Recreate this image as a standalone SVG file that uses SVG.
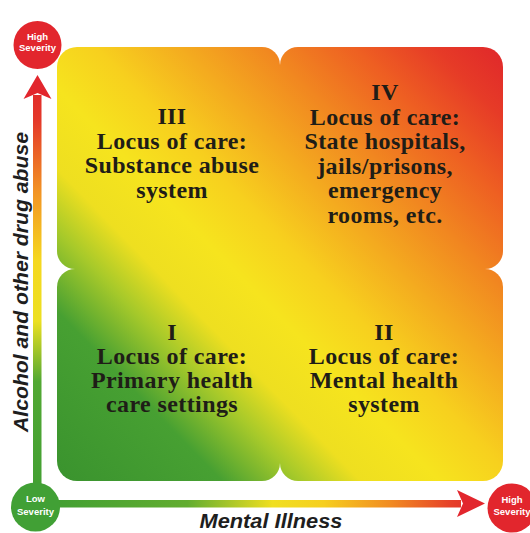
<svg xmlns="http://www.w3.org/2000/svg" width="530" height="533" viewBox="0 0 530 533">
  <defs>
    <!-- severity field: green (low/low) to red (high/high) -->
    <linearGradient id="field" gradientUnits="userSpaceOnUse" x1="57" y1="481" x2="503" y2="47">
      <stop offset="0" stop-color="#3a932e"/>
      <stop offset="0.19" stop-color="#47a032"/>
      <stop offset="0.28" stop-color="#a6c92a"/>
      <stop offset="0.35" stop-color="#eedf20"/>
      <stop offset="0.44" stop-color="#f6e41e"/>
      <stop offset="0.53" stop-color="#f7d01e"/>
      <stop offset="0.63" stop-color="#f4ab1f"/>
      <stop offset="0.73" stop-color="#f18620"/>
      <stop offset="0.83" stop-color="#ee5f22"/>
      <stop offset="0.92" stop-color="#e63b27"/>
      <stop offset="1" stop-color="#e0272b"/>
    </linearGradient>
    <linearGradient id="axisV" gradientUnits="userSpaceOnUse" x1="0" y1="482" x2="0" y2="80">
      <stop offset="0" stop-color="#43a032"/>
      <stop offset="0.25" stop-color="#52a833"/>
      <stop offset="0.4" stop-color="#ece021"/>
      <stop offset="0.55" stop-color="#f5d81f"/>
      <stop offset="0.72" stop-color="#f29424"/>
      <stop offset="0.9" stop-color="#e4382a"/>
      <stop offset="1" stop-color="#e0272b"/>
    </linearGradient>
    <linearGradient id="axisH" gradientUnits="userSpaceOnUse" x1="60" y1="0" x2="485" y2="0">
      <stop offset="0" stop-color="#43a032"/>
      <stop offset="0.3" stop-color="#62ad30"/>
      <stop offset="0.5" stop-color="#f0df21"/>
      <stop offset="0.62" stop-color="#f6cf1f"/>
      <stop offset="0.78" stop-color="#f18a22"/>
      <stop offset="0.92" stop-color="#e64029"/>
      <stop offset="1" stop-color="#e0272b"/>
    </linearGradient>
    <style>
      .quad { fill: url(#field); }
      .label { font-family: "Liberation Serif", "Times New Roman", serif; font-weight: bold; font-size: 24px; letter-spacing: 0.4px; fill: #1f1d17; text-anchor: middle; }
      .badge-text { font-family: "Liberation Sans", Arial, sans-serif; font-weight: bold; font-size: 9.5px; fill: #ffffff; text-anchor: middle; }
      .axis-title { font-family: "Liberation Sans", Arial, sans-serif; font-weight: bold; font-style: italic; font-size: 21px; fill: #1e1e1e; text-anchor: middle; }
      .high { fill: #e2262d; }
      .low { fill: #41a035; }
    </style>
  </defs>

  <rect x="0" y="0" width="530" height="533" fill="#ffffff"/>

  <!-- axes -->
  <g id="connectors">
    <rect x="33" y="95" width="8.5" height="390" fill="url(#axisV)"/>
    <path d="M37.5,75 L51.5,99 L37.5,93 L23.5,99 Z" class="high"/>
    <rect x="55" y="500" width="406" height="7.5" fill="url(#axisH)"/>
    <path d="M485,503.5 L457,490 L463,503.5 L457,517 Z" class="high"/>
  </g>

  <!-- quadrants: outer corners rounded, notches where the edges meet, square at the centre -->
  <g id="quadrant-III">
    <path class="quad" d="M77,47 H262 A18,18 0 0 1 280,65 V269 H75 A18,18 0 0 1 57,251 V67 A20,20 0 0 1 77,47 Z"/>
    <text class="label" x="172" y="124">III</text>
    <text class="label" x="172" y="148.5">Locus of care:</text>
    <text class="label" x="172" y="173">Substance abuse</text>
    <text class="label" x="172" y="197.5">system</text>
  </g>
  <g id="quadrant-IV">
    <path class="quad" d="M298,47 H483 A20,20 0 0 1 503,67 V251 A18,18 0 0 1 485,269 H280 V65 A18,18 0 0 1 298,47 Z"/>
    <text class="label" x="385" y="100">IV</text>
    <text class="label" x="385" y="124.6">Locus of care:</text>
    <text class="label" x="385" y="149.2">State hospitals,</text>
    <text class="label" x="385" y="173.8">jails/prisons,</text>
    <text class="label" x="385" y="198.4">emergency</text>
    <text class="label" x="385" y="223">rooms, etc.</text>
  </g>
  <g id="quadrant-I">
    <path class="quad" d="M75,269 H280 V463 A18,18 0 0 1 262,481 H77 A20,20 0 0 1 57,461 V287 A18,18 0 0 1 75,269 Z"/>
    <text class="label" x="172" y="340">I</text>
    <text class="label" x="172" y="364">Locus of care:</text>
    <text class="label" x="172" y="388">Primary health</text>
    <text class="label" x="172" y="412">care settings</text>
  </g>
  <g id="quadrant-II">
    <path class="quad" d="M280,269 H485 A18,18 0 0 1 503,287 V461 A20,20 0 0 1 483,481 H298 A18,18 0 0 1 280,463 Z"/>
    <text class="label" x="384" y="340">II</text>
    <text class="label" x="384" y="364">Locus of care:</text>
    <text class="label" x="384" y="388">Mental health</text>
    <text class="label" x="384" y="412">system</text>
  </g>

  <!-- severity badges -->
  <g id="badge-top-high">
    <circle class="high" cx="37.5" cy="45" r="24"/>
    <text class="badge-text" x="37.5" y="40">High</text>
    <text class="badge-text" x="37.5" y="51">Severity</text>
  </g>
  <g id="badge-origin-low">
    <circle class="low" cx="35.5" cy="507" r="24.5"/>
    <text class="badge-text" x="35.5" y="502">Low</text>
    <text class="badge-text" x="35.5" y="514.5">Severity</text>
  </g>
  <g id="badge-right-high">
    <circle class="high" cx="512" cy="508" r="24.5"/>
    <text class="badge-text" x="512" y="503">High</text>
    <text class="badge-text" x="512" y="515">Severity</text>
  </g>

  <!-- axis titles -->
  <g id="axis-titles">
    <text class="axis-title" x="271" y="528" textLength="143" lengthAdjust="spacingAndGlyphs">Mental Illness</text>
    <text class="axis-title" transform="translate(27.5,282) rotate(-90)" x="0" y="0" textLength="300" lengthAdjust="spacingAndGlyphs">Alcohol and other drug abuse</text>
  </g>
</svg>
